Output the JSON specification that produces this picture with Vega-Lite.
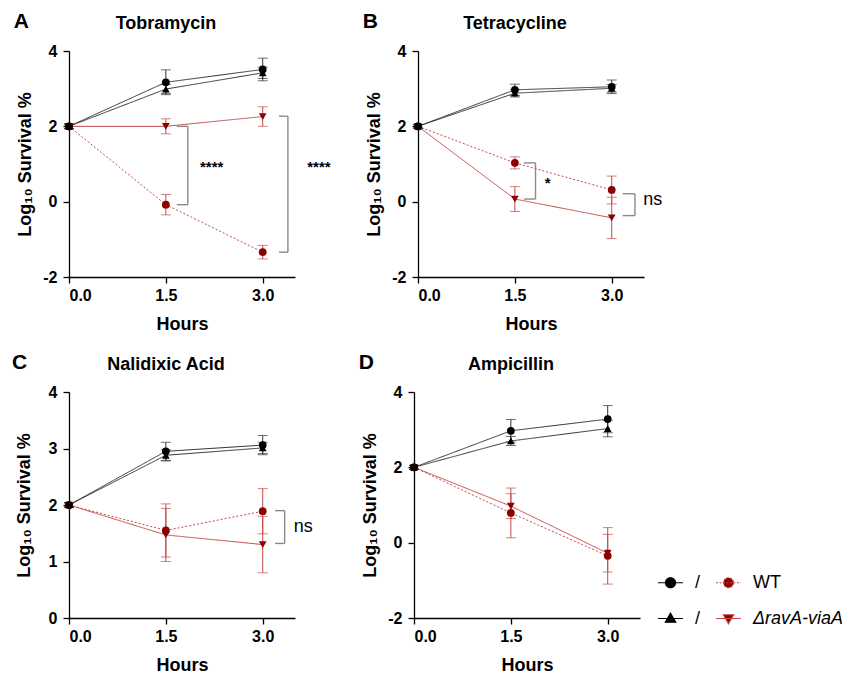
{
 "$schema": "https://vega.github.io/schema/vega-lite/v6.json",
 "padding": {"left": 12, "top": 11, "right": 2, "bottom": 2},
 "datasets": {
  "pts": [
   {"ab":"Tobramycin","h":0,"s":"WT treated","m":2,"e":0.06},
   {"ab":"Tobramycin","h":1.5,"s":"WT treated","m":-0.08,"e":0.27},
   {"ab":"Tobramycin","h":3,"s":"WT treated","m":-1.34,"e":0.18},
   {"ab":"Tobramycin","h":0,"s":"ΔravA-viaA treated","m":2,"e":0.06},
   {"ab":"Tobramycin","h":1.5,"s":"ΔravA-viaA treated","m":2.0,"e":0.2},
   {"ab":"Tobramycin","h":3,"s":"ΔravA-viaA treated","m":2.26,"e":0.26},
   {"ab":"Tobramycin","h":0,"s":"WT control","m":2,"e":0.06},
   {"ab":"Tobramycin","h":1.5,"s":"WT control","m":3.17,"e":0.33},
   {"ab":"Tobramycin","h":3,"s":"WT control","m":3.51,"e":0.3},
   {"ab":"Tobramycin","h":0,"s":"ΔravA-viaA control","m":2,"e":0.06},
   {"ab":"Tobramycin","h":1.5,"s":"ΔravA-viaA control","m":2.99,"e":0.12},
   {"ab":"Tobramycin","h":3,"s":"ΔravA-viaA control","m":3.42,"e":0.15},
   {"ab":"Tetracycline","h":0,"s":"WT treated","m":2,"e":0.05},
   {"ab":"Tetracycline","h":1.5,"s":"WT treated","m":1.03,"e":0.16},
   {"ab":"Tetracycline","h":3,"s":"WT treated","m":0.31,"e":0.37},
   {"ab":"Tetracycline","h":0,"s":"ΔravA-viaA treated","m":2,"e":0.05},
   {"ab":"Tetracycline","h":1.5,"s":"ΔravA-viaA treated","m":0.07,"e":0.33},
   {"ab":"Tetracycline","h":3,"s":"ΔravA-viaA treated","m":-0.43,"e":0.55},
   {"ab":"Tetracycline","h":0,"s":"WT control","m":2,"e":0.05},
   {"ab":"Tetracycline","h":1.5,"s":"WT control","m":2.97,"e":0.15},
   {"ab":"Tetracycline","h":3,"s":"WT control","m":3.05,"e":0.18},
   {"ab":"Tetracycline","h":0,"s":"ΔravA-viaA control","m":2,"e":0.05},
   {"ab":"Tetracycline","h":1.5,"s":"ΔravA-viaA control","m":2.88,"e":0.1},
   {"ab":"Tetracycline","h":3,"s":"ΔravA-viaA control","m":3.01,"e":0.1},
   {"ab":"Nalidixic Acid","h":0,"s":"WT treated","m":2,"e":0.04},
   {"ab":"Nalidixic Acid","h":1.5,"s":"WT treated","m":1.55,"e":0.47},
   {"ab":"Nalidixic Acid","h":3,"s":"WT treated","m":1.89,"e":0.4},
   {"ab":"Nalidixic Acid","h":0,"s":"ΔravA-viaA treated","m":2,"e":0.04},
   {"ab":"Nalidixic Acid","h":1.5,"s":"ΔravA-viaA treated","m":1.47,"e":0.47},
   {"ab":"Nalidixic Acid","h":3,"s":"ΔravA-viaA treated","m":1.3,"e":0.5},
   {"ab":"Nalidixic Acid","h":0,"s":"WT control","m":2,"e":0.04},
   {"ab":"Nalidixic Acid","h":1.5,"s":"WT control","m":2.95,"e":0.16},
   {"ab":"Nalidixic Acid","h":3,"s":"WT control","m":3.06,"e":0.17},
   {"ab":"Nalidixic Acid","h":0,"s":"ΔravA-viaA control","m":2,"e":0.04},
   {"ab":"Nalidixic Acid","h":1.5,"s":"ΔravA-viaA control","m":2.88,"e":0.1},
   {"ab":"Nalidixic Acid","h":3,"s":"ΔravA-viaA control","m":3.01,"e":0.1},
   {"ab":"Ampicillin","h":0,"s":"WT treated","m":2,"e":0.05},
   {"ab":"Ampicillin","h":1.5,"s":"WT treated","m":0.79,"e":0.66},
   {"ab":"Ampicillin","h":3,"s":"WT treated","m":-0.35,"e":0.75},
   {"ab":"Ampicillin","h":0,"s":"ΔravA-viaA treated","m":2,"e":0.05},
   {"ab":"Ampicillin","h":1.5,"s":"ΔravA-viaA treated","m":0.97,"e":0.33},
   {"ab":"Ampicillin","h":3,"s":"ΔravA-viaA treated","m":-0.28,"e":0.5},
   {"ab":"Ampicillin","h":0,"s":"WT control","m":2,"e":0.05},
   {"ab":"Ampicillin","h":1.5,"s":"WT control","m":2.97,"e":0.3},
   {"ab":"Ampicillin","h":3,"s":"WT control","m":3.28,"e":0.36},
   {"ab":"Ampicillin","h":0,"s":"ΔravA-viaA control","m":2,"e":0.05},
   {"ab":"Ampicillin","h":1.5,"s":"ΔravA-viaA control","m":2.7,"e":0.12},
   {"ab":"Ampicillin","h":3,"s":"ΔravA-viaA control","m":3.03,"e":0.22}
  ],
  "brk": [
   {"ab":"Tobramycin","x1":1.67,"x2":1.84,"ya":2.0,"yb":-0.08,"lab":"****","lx":2.21,"ly":0.92},
   {"ab":"Tobramycin","x1":3.25,"x2":3.39,"ya":2.27,"yb":-1.34,"lab":"****","lx":3.87,"ly":0.92},
   {"ab":"Tetracycline","x1":1.64,"x2":1.82,"ya":1.03,"yb":0.07,"lab":"*","lx":2.01,"ly":0.5},
   {"ab":"Tetracycline","x1":3.17,"x2":3.36,"ya":0.21,"yb":-0.37,"lab":"ns","lx":3.49,"ly":0.05},
   {"ab":"Nalidixic Acid","x1":3.19,"x2":3.34,"ya":1.9,"yb":1.32,"lab":"ns","lx":3.48,"ly":1.61}
  ]
 },
 "spacing": 19,
 "vconcat": [
  {
   "spacing": 31,
   "hconcat": [
    {
     "title": {"text": "A", "anchor": "start", "frame": "bounds", "fontSize": 21, "offset": -17, "dx": -3},
     "vconcat": [
      {
       "width": 226, "height": 226,
       "title": {"text": "Tobramycin", "dx": -16, "offset": 10},
       "layer": [
        {
         "data": {"name": "pts"},
         "transform": [{"filter": "datum.ab === 'Tobramycin'"}],
         "encoding": {
          "x": {"field": "h", "type": "quantitative", "scale": {"domain": [0, 3.5], "nice": false, "zero": false}, "axis": {"values": [0, 1.5, 3], "format": ".1f", "title": "Hours"}},
          "y": {"field": "m", "type": "quantitative", "scale": {"domain": [-2, 4], "nice": false}, "axis": {"values": [-2, 0, 2, 4], "labelExpr": "'' + datum.value", "title": "Log₁₀ Survival %"}},
          "color": {"field": "s", "type": "nominal", "scale": {"domain": ["WT control", "ΔravA-viaA control", "WT treated", "ΔravA-viaA treated"], "range": ["#333333", "#333333", "#c44a4a", "#c44a4a"]}, "legend": null}
         },
         "layer": [
          {"mark": {"type": "line", "strokeWidth": 1}, "encoding": {"strokeDash": {"field": "s", "type": "nominal", "scale": {"domain": ["WT control", "ΔravA-viaA control", "WT treated", "ΔravA-viaA treated"], "range": [[1, 0], [1, 0], [2, 2], [1, 0]]}, "legend": null}}},
          {"mark": {"type": "errorbar", "ticks": {"size": 10}, "thickness": 1}, "encoding": {"yError": {"field": "e"}}},
          {"mark": {"type": "point", "filled": true, "size": 60, "opacity": 1}, "encoding": {
            "shape": {"field": "s", "type": "nominal", "scale": {"domain": ["WT control", "ΔravA-viaA control", "WT treated", "ΔravA-viaA treated"], "range": ["circle", "triangle-up", "circle", "triangle-down"]}, "legend": null},
            "fill": {"field": "s", "type": "nominal", "scale": {"domain": ["WT control", "ΔravA-viaA control", "WT treated", "ΔravA-viaA treated"], "range": ["#000000", "#000000", "#8b0000", "#8b0000"]}, "legend": null}
          }}
         ]
        },
        {
         "data": {"name": "brk"},
         "transform": [{"filter": "datum.ab === 'Tobramycin'"}],
         "layer": [
          {"mark": {"type": "rule", "color": "#8a8a8a", "strokeWidth": 1.4}, "encoding": {"x": {"field": "x1", "type": "quantitative", "axis": {"values": [0, 1.5, 3], "format": ".1f", "title": "Hours"}}, "x2": {"field": "x2"}, "y": {"field": "ya", "type": "quantitative", "axis": {"values": [-2, 0, 2, 4], "labelExpr": "'' + datum.value", "title": "Log₁₀ Survival %"}}}},
          {"mark": {"type": "rule", "color": "#8a8a8a", "strokeWidth": 1.4}, "encoding": {"x": {"field": "x2", "type": "quantitative", "axis": {"values": [0, 1.5, 3], "format": ".1f", "title": "Hours"}}, "y": {"field": "ya", "type": "quantitative", "axis": {"values": [-2, 0, 2, 4], "labelExpr": "'' + datum.value", "title": "Log₁₀ Survival %"}}, "y2": {"field": "yb"}}},
          {"mark": {"type": "rule", "color": "#8a8a8a", "strokeWidth": 1.4}, "encoding": {"x": {"field": "x1", "type": "quantitative", "axis": {"values": [0, 1.5, 3], "format": ".1f", "title": "Hours"}}, "x2": {"field": "x2"}, "y": {"field": "yb", "type": "quantitative", "axis": {"values": [-2, 0, 2, 4], "labelExpr": "'' + datum.value", "title": "Log₁₀ Survival %"}}}},
          {"transform": [{"filter": "datum.lab !== 'ns'"}], "mark": {"type": "text", "fontSize": 15, "fontWeight": "bold", "align": "center", "baseline": "middle"}, "encoding": {"x": {"field": "lx", "type": "quantitative", "axis": {"values": [0, 1.5, 3], "format": ".1f", "title": "Hours"}}, "y": {"field": "ly", "type": "quantitative", "axis": {"values": [-2, 0, 2, 4], "labelExpr": "'' + datum.value", "title": "Log₁₀ Survival %"}}, "text": {"field": "lab"}}}
         ]
        }
       ]
      }
     ]
    },
    {
     "title": {"text": "B", "anchor": "start", "frame": "bounds", "fontSize": 21, "offset": -17, "dx": -3},
     "vconcat": [
      {
       "width": 226, "height": 226,
       "title": {"text": "Tetracycline", "dx": -16, "offset": 10},
       "layer": [
        {
         "data": {"name": "pts"},
         "transform": [{"filter": "datum.ab === 'Tetracycline'"}],
         "encoding": {
          "x": {"field": "h", "type": "quantitative", "scale": {"domain": [0, 3.5], "nice": false, "zero": false}, "axis": {"values": [0, 1.5, 3], "format": ".1f", "title": "Hours"}},
          "y": {"field": "m", "type": "quantitative", "scale": {"domain": [-2, 4], "nice": false}, "axis": {"values": [-2, 0, 2, 4], "labelExpr": "'' + datum.value", "title": "Log₁₀ Survival %"}},
          "color": {"field": "s", "type": "nominal", "scale": {"domain": ["WT control", "ΔravA-viaA control", "WT treated", "ΔravA-viaA treated"], "range": ["#333333", "#333333", "#c44a4a", "#c44a4a"]}, "legend": null}
         },
         "layer": [
          {"mark": {"type": "line", "strokeWidth": 1}, "encoding": {"strokeDash": {"field": "s", "type": "nominal", "scale": {"domain": ["WT control", "ΔravA-viaA control", "WT treated", "ΔravA-viaA treated"], "range": [[1, 0], [1, 0], [2, 2], [1, 0]]}, "legend": null}}},
          {"mark": {"type": "errorbar", "ticks": {"size": 10}, "thickness": 1}, "encoding": {"yError": {"field": "e"}}},
          {"mark": {"type": "point", "filled": true, "size": 60, "opacity": 1}, "encoding": {
            "shape": {"field": "s", "type": "nominal", "scale": {"domain": ["WT control", "ΔravA-viaA control", "WT treated", "ΔravA-viaA treated"], "range": ["circle", "triangle-up", "circle", "triangle-down"]}, "legend": null},
            "fill": {"field": "s", "type": "nominal", "scale": {"domain": ["WT control", "ΔravA-viaA control", "WT treated", "ΔravA-viaA treated"], "range": ["#000000", "#000000", "#8b0000", "#8b0000"]}, "legend": null}
          }}
         ]
        },
        {
         "data": {"name": "brk"},
         "transform": [{"filter": "datum.ab === 'Tetracycline'"}],
         "layer": [
          {"mark": {"type": "rule", "color": "#8a8a8a", "strokeWidth": 1.4}, "encoding": {"x": {"field": "x1", "type": "quantitative", "axis": {"values": [0, 1.5, 3], "format": ".1f", "title": "Hours"}}, "x2": {"field": "x2"}, "y": {"field": "ya", "type": "quantitative", "axis": {"values": [-2, 0, 2, 4], "labelExpr": "'' + datum.value", "title": "Log₁₀ Survival %"}}}},
          {"mark": {"type": "rule", "color": "#8a8a8a", "strokeWidth": 1.4}, "encoding": {"x": {"field": "x2", "type": "quantitative", "axis": {"values": [0, 1.5, 3], "format": ".1f", "title": "Hours"}}, "y": {"field": "ya", "type": "quantitative", "axis": {"values": [-2, 0, 2, 4], "labelExpr": "'' + datum.value", "title": "Log₁₀ Survival %"}}, "y2": {"field": "yb"}}},
          {"mark": {"type": "rule", "color": "#8a8a8a", "strokeWidth": 1.4}, "encoding": {"x": {"field": "x1", "type": "quantitative", "axis": {"values": [0, 1.5, 3], "format": ".1f", "title": "Hours"}}, "x2": {"field": "x2"}, "y": {"field": "yb", "type": "quantitative", "axis": {"values": [-2, 0, 2, 4], "labelExpr": "'' + datum.value", "title": "Log₁₀ Survival %"}}}},
          {"transform": [{"filter": "datum.lab !== 'ns'"}], "mark": {"type": "text", "fontSize": 15, "fontWeight": "bold", "align": "center", "baseline": "middle"}, "encoding": {"x": {"field": "lx", "type": "quantitative", "axis": {"values": [0, 1.5, 3], "format": ".1f", "title": "Hours"}}, "y": {"field": "ly", "type": "quantitative", "axis": {"values": [-2, 0, 2, 4], "labelExpr": "'' + datum.value", "title": "Log₁₀ Survival %"}}, "text": {"field": "lab"}}},
          {"transform": [{"filter": "datum.lab === 'ns'"}], "mark": {"type": "text", "fontSize": 18, "align": "left", "baseline": "middle"}, "encoding": {"x": {"field": "lx", "type": "quantitative", "axis": {"values": [0, 1.5, 3], "format": ".1f", "title": "Hours"}}, "y": {"field": "ly", "type": "quantitative", "axis": {"values": [-2, 0, 2, 4], "labelExpr": "'' + datum.value", "title": "Log₁₀ Survival %"}}, "text": {"field": "lab"}}}
         ]
        }
       ]
      }
     ]
    }
   ]
  },
  {
   "spacing": 45,
   "hconcat": [
    {
     "title": {"text": "C", "anchor": "start", "frame": "bounds", "fontSize": 21, "offset": -17, "dx": -3},
     "vconcat": [
      {
       "width": 226, "height": 226,
       "title": {"text": "Nalidixic Acid", "dx": -16, "offset": 10},
       "layer": [
        {
         "data": {"name": "pts"},
         "transform": [{"filter": "datum.ab === 'Nalidixic Acid'"}],
         "encoding": {
          "x": {"field": "h", "type": "quantitative", "scale": {"domain": [0, 3.5], "nice": false, "zero": false}, "axis": {"values": [0, 1.5, 3], "format": ".1f", "title": "Hours"}},
          "y": {"field": "m", "type": "quantitative", "scale": {"domain": [0, 4], "nice": false}, "axis": {"values": [0, 1, 2, 3, 4], "title": "Log₁₀ Survival %", "titlePadding": 15}},
          "color": {"field": "s", "type": "nominal", "scale": {"domain": ["WT control", "ΔravA-viaA control", "WT treated", "ΔravA-viaA treated"], "range": ["#333333", "#333333", "#c44a4a", "#c44a4a"]}, "legend": null}
         },
         "layer": [
          {"mark": {"type": "line", "strokeWidth": 1}, "encoding": {"strokeDash": {"field": "s", "type": "nominal", "scale": {"domain": ["WT control", "ΔravA-viaA control", "WT treated", "ΔravA-viaA treated"], "range": [[1, 0], [1, 0], [2, 2], [1, 0]]}, "legend": null}}},
          {"mark": {"type": "errorbar", "ticks": {"size": 10}, "thickness": 1}, "encoding": {"yError": {"field": "e"}}},
          {"mark": {"type": "point", "filled": true, "size": 60, "opacity": 1}, "encoding": {
            "shape": {"field": "s", "type": "nominal", "scale": {"domain": ["WT control", "ΔravA-viaA control", "WT treated", "ΔravA-viaA treated"], "range": ["circle", "triangle-up", "circle", "triangle-down"]}, "legend": null},
            "fill": {"field": "s", "type": "nominal", "scale": {"domain": ["WT control", "ΔravA-viaA control", "WT treated", "ΔravA-viaA treated"], "range": ["#000000", "#000000", "#8b0000", "#8b0000"]}, "legend": null}
          }}
         ]
        },
        {
         "data": {"name": "brk"},
         "transform": [{"filter": "datum.ab === 'Nalidixic Acid'"}],
         "layer": [
          {"mark": {"type": "rule", "color": "#8a8a8a", "strokeWidth": 1.4}, "encoding": {"x": {"field": "x1", "type": "quantitative", "axis": {"values": [0, 1.5, 3], "format": ".1f", "title": "Hours"}}, "x2": {"field": "x2"}, "y": {"field": "ya", "type": "quantitative", "axis": {"values": [0, 1, 2, 3, 4], "title": "Log₁₀ Survival %", "titlePadding": 15}}}},
          {"mark": {"type": "rule", "color": "#8a8a8a", "strokeWidth": 1.4}, "encoding": {"x": {"field": "x2", "type": "quantitative", "axis": {"values": [0, 1.5, 3], "format": ".1f", "title": "Hours"}}, "y": {"field": "ya", "type": "quantitative", "axis": {"values": [0, 1, 2, 3, 4], "title": "Log₁₀ Survival %", "titlePadding": 15}}, "y2": {"field": "yb"}}},
          {"mark": {"type": "rule", "color": "#8a8a8a", "strokeWidth": 1.4}, "encoding": {"x": {"field": "x1", "type": "quantitative", "axis": {"values": [0, 1.5, 3], "format": ".1f", "title": "Hours"}}, "x2": {"field": "x2"}, "y": {"field": "yb", "type": "quantitative", "axis": {"values": [0, 1, 2, 3, 4], "title": "Log₁₀ Survival %", "titlePadding": 15}}}},
          {"transform": [{"filter": "datum.lab === 'ns'"}], "mark": {"type": "text", "fontSize": 18, "align": "left", "baseline": "middle"}, "encoding": {"x": {"field": "lx", "type": "quantitative", "axis": {"values": [0, 1.5, 3], "format": ".1f", "title": "Hours"}}, "y": {"field": "ly", "type": "quantitative", "axis": {"values": [0, 1, 2, 3, 4], "title": "Log₁₀ Survival %", "titlePadding": 15}}, "text": {"field": "lab"}}}
         ]
        }
       ]
      }
     ]
    },
    {
     "title": {"text": "D", "anchor": "start", "frame": "bounds", "fontSize": 21, "offset": -17, "dx": -3},
     "vconcat": [
      {
       "width": 226, "height": 226,
       "title": {"text": "Ampicillin", "dx": -16, "offset": 10},
       "resolve": {"scale": {"shape": "independent", "fill": "independent", "stroke": "independent", "strokeDash": "independent"}},
       "layer": [
        {
         "data": {"name": "pts"},
         "transform": [{"filter": "datum.ab === 'Ampicillin'"}],
         "mark": {"type": "point", "filled": true, "size": 10, "opacity": 1},
         "encoding": {
          "x": {"field": "h", "type": "quantitative", "scale": {"domain": [0, 3.5], "nice": false, "zero": false}, "axis": {"values": [0, 1.5, 3], "format": ".1f", "title": "Hours"}},
          "y": {"field": "m", "type": "quantitative", "scale": {"domain": [-2, 4], "nice": false}, "axis": {"values": [-2, 0, 2, 4], "labelExpr": "'' + datum.value", "title": "Log₁₀ Survival %"}},
          "shape": {"field": "s", "type": "nominal", "scale": {"domain": ["WT control", "ΔravA-viaA control", "WT treated", "ΔravA-viaA treated"], "range": ["M-1,0H1M0.4,0A0.4,0.4,0,1,1,-0.4,0A0.4,0.4,0,1,1,0.4,0", "M-1,0H1M0,-0.42L0.42,0.3L-0.42,0.3Z", "M-1,0H1M0.4,0A0.4,0.4,0,1,1,-0.4,0A0.4,0.4,0,1,1,0.4,0", "M-1,0H1M0,0.42L0.42,-0.3L-0.42,-0.3Z"]},
           "legend": {
            "orient": "none", "legendX": 243, "legendY": 177, "title": null, "columns": 2, "padding": 0,
            "symbolSize": 625, "symbolStrokeWidth": 1.2, "symbolOpacity": 1, "symbolFillColor": "#000000",
            "columnPadding": 12, "rowPadding": 13, "labelOffset": 11,
            "labelFont": "Liberation Sans", "labelFontSize": 18, "labelFontWeight": "normal", "labelColor": "black", "labelLimit": 200,
            "labelExpr": "datum.value === 'WT treated' ? 'WT' : (datum.value === 'ΔravA-viaA treated' ? 'ΔravA-viaA' : '/')",
            "labelFontStyle": {"expr": "datum.value === 'ΔravA-viaA treated' ? 'italic' : 'normal'"}
           }
          },
          "fill": {"field": "s", "type": "nominal", "scale": {"domain": ["WT control", "ΔravA-viaA control", "WT treated", "ΔravA-viaA treated"], "range": ["#000000", "#000000", "#8b0000", "#8b0000"]}, "legend": {"title": null}},
          "stroke": {"field": "s", "type": "nominal", "scale": {"domain": ["WT control", "ΔravA-viaA control", "WT treated", "ΔravA-viaA treated"], "range": ["#000000", "#000000", "#c44a4a", "#c44a4a"]}, "legend": {"title": null}},
          "strokeDash": {"field": "s", "type": "nominal", "scale": {"domain": ["WT control", "ΔravA-viaA control", "WT treated", "ΔravA-viaA treated"], "range": [[1, 0], [1, 0], [2, 1.5], [1, 0]]}, "legend": {"title": null}}
         }
        },
        {
         "data": {"name": "pts"},
         "transform": [{"filter": "datum.ab === 'Ampicillin'"}],
         "encoding": {
          "x": {"field": "h", "type": "quantitative", "scale": {"domain": [0, 3.5], "nice": false, "zero": false}, "axis": {"values": [0, 1.5, 3], "format": ".1f", "title": "Hours"}},
          "y": {"field": "m", "type": "quantitative", "scale": {"domain": [-2, 4], "nice": false}, "axis": {"values": [-2, 0, 2, 4], "labelExpr": "'' + datum.value", "title": "Log₁₀ Survival %"}},
          "color": {"field": "s", "type": "nominal", "scale": {"domain": ["WT control", "ΔravA-viaA control", "WT treated", "ΔravA-viaA treated"], "range": ["#333333", "#333333", "#c44a4a", "#c44a4a"]}, "legend": null}
         },
         "layer": [
          {"mark": {"type": "line", "strokeWidth": 1}, "encoding": {"strokeDash": {"field": "s", "type": "nominal", "scale": {"domain": ["WT control", "ΔravA-viaA control", "WT treated", "ΔravA-viaA treated"], "range": [[1, 0], [1, 0], [2, 2], [1, 0]]}, "legend": null}}},
          {"mark": {"type": "errorbar", "ticks": {"size": 10}, "thickness": 1}, "encoding": {"yError": {"field": "e"}}},
          {"mark": {"type": "point", "filled": true, "size": 60, "opacity": 1}, "encoding": {
            "shape": {"field": "s", "type": "nominal", "scale": {"domain": ["WT control", "ΔravA-viaA control", "WT treated", "ΔravA-viaA treated"], "range": ["circle", "triangle-up", "circle", "triangle-down"]}, "legend": null},
            "fill": {"field": "s", "type": "nominal", "scale": {"domain": ["WT control", "ΔravA-viaA control", "WT treated", "ΔravA-viaA treated"], "range": ["#000000", "#000000", "#8b0000", "#8b0000"]}, "legend": null}
          }}
         ]
        }
       ]
      }
     ]
    }
   ]
  }
 ],
 "config": {
  "font": "Liberation Sans",
  "view": {"stroke": null},
  "axis": {"domainColor": "black", "domainWidth": 1.3, "tickColor": "black", "tickWidth": 1.3, "tickSize": 6, "labelFont": "Liberation Sans", "labelFontSize": 16, "labelFontWeight": "bold", "labelColor": "black", "titleFont": "Liberation Sans", "titleFontSize": 18, "titleFontWeight": "bold", "titleColor": "black", "grid": false},
  "axisX": {"titlePadding": 12, "labelPadding": 4},
  "axisY": {"titlePadding": 8, "labelPadding": 6},
  "title": {"font": "Liberation Sans", "fontSize": 18, "fontWeight": "bold", "color": "black"}
 }
}
